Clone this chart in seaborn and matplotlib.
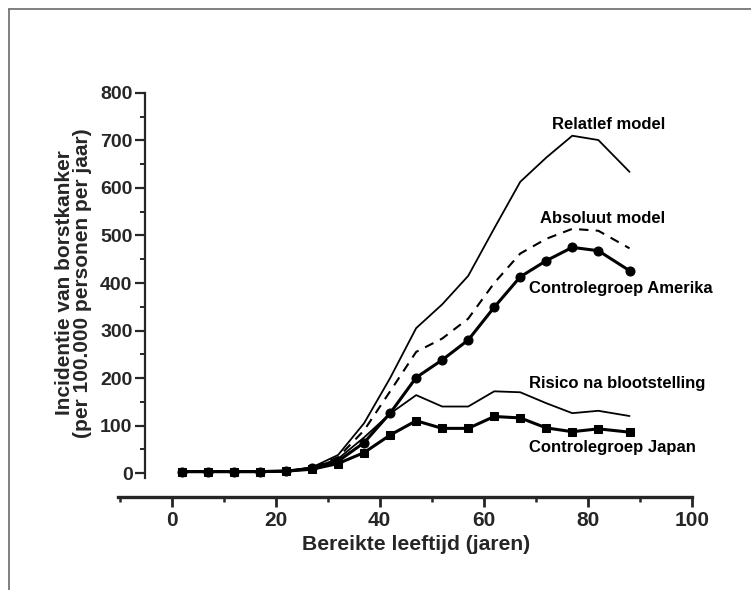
import matplotlib
matplotlib.use("Agg")
import matplotlib.pyplot as plt
import matplotlib.lines as mlines
from matplotlib.ticker import MultipleLocator, FixedLocator
import seaborn as sns
import pandas as pd

# ---- data ----
ages = [2, 7, 12, 17, 22, 27, 32, 37, 42, 47, 52, 57, 62, 67, 72, 77, 82, 88]
amerika = [3, 3, 3, 3, 4, 10, 25, 64, 126, 201, 238, 280, 349, 413, 447, 475, 468, 426]
japan = [3, 3, 3, 3, 4, 8, 20, 43, 80, 110, 94, 94, 119, 116, 95, 87, 93, 86]
relatief = [3, 3, 3, 3, 4, 12, 38, 105, 200, 305, 355, 415, 515, 613, 664, 710, 701, 634]
absoluut = [3, 3, 3, 3, 4, 11, 33, 90, 172, 255, 283, 325, 400, 462, 493, 514, 510, 473]
risico = [3, 3, 3, 3, 4, 10, 30, 75, 125, 164, 140, 140, 172, 170, 147, 126, 131, 120]

x_ticks = [0, 20, 40, 60, 80, 100]
y_ticks = [0, 100, 200, 300, 400, 500, 600, 700, 800]

labels = ["Relatlef model", "Absoluut model", "Controlegroep Amerika",
          "Risico na blootstelling", "Controlegroep Japan"]

df = pd.DataFrame({"age": ages, "amerika": amerika, "japan": japan,
                   "relatief": relatief, "absoluut": absoluut, "risico": risico})

sns.set_style("ticks")
plt.rcParams["font.family"] = ["Liberation Sans", "DejaVu Sans"]

fig = plt.figure(figsize=(7.51, 5.90), dpi=100)
ax = fig.add_axes([0.1571, 0.1576, 0.7643, 0.6848])

sns.lineplot(data=df, x="age", y="relatief", ax=ax, color="black", linewidth=1.3)
sns.lineplot(data=df, x="age", y="absoluut", ax=ax, color="black", linewidth=1.5,
             linestyle=(0, (4.5, 3.5)))
sns.lineplot(data=df, x="age", y="risico", ax=ax, color="black", linewidth=1.3)
sns.lineplot(data=df, x="age", y="amerika", ax=ax, color="black", linewidth=2.2,
             marker="o", markersize=6.5, markeredgecolor="black")
sns.lineplot(data=df, x="age", y="japan", ax=ax, color="black", linewidth=2.2,
             marker="s", markersize=6, markeredgecolor="black")

ax.set_xlim(-10.3, 100)
ax.set_ylim(-50.5, 800)

ax.spines["top"].set_visible(False)
ax.spines["right"].set_visible(False)
ax.spines["left"].set_position(("data", -5.1))
ax.spines["left"].set_bounds(-10, 800)
ax.spines["left"].set_linewidth(1.6)
ax.spines["bottom"].set_linewidth(2.4)
ax.spines["bottom"].set_capstyle("projecting")

ax.xaxis.set_major_locator(FixedLocator(x_ticks))
ax.xaxis.set_minor_locator(FixedLocator([-10, 10, 30, 50, 70, 90]))
ax.yaxis.set_major_locator(FixedLocator(y_ticks))
ax.yaxis.set_minor_locator(MultipleLocator(50))

ax.tick_params(axis="x", which="major", direction="out", length=7, width=2, pad=3,
               labelsize=15)
ax.tick_params(axis="x", which="minor", direction="out", length=3.5, width=1.8)
ax.tick_params(axis="y", which="major", direction="out", length=7, width=1.6, pad=2,
               labelsize=14)
ax.tick_params(axis="y", which="minor", direction="out", length=3.5, width=1.4)
for lab in ax.get_xticklabels() + ax.get_yticklabels():
    lab.set_fontweight("bold")

ax.set_xlabel("Bereikte leeftijd (jaren)", fontsize=15.2, fontweight="bold")
ax.xaxis.set_label_coords(0.519, -0.094)
ax.set_ylabel("Incidentie van borstkanker\n(per 100.000 personen per jaar)",
              fontsize=15, fontweight="bold", linespacing=0.95)
ax.yaxis.set_label_coords(-0.045, 0.53)

txt_kw = dict(fontsize=12, fontweight="bold", color="black")
ax.text(94.8, 733, labels[0], ha="right", va="center", **txt_kw)
ax.text(94.8, 536, labels[1], ha="right", va="center", **txt_kw)
ax.text(68.6, 389, labels[2], ha="left", va="center", **txt_kw)
ax.text(68.6, 188, labels[3], ha="left", va="center", **txt_kw)
ax.text(68.6, 54, labels[4], ha="left", va="center", **txt_kw)

# scanned page frame (left and top edges)
fig.add_artist(mlines.Line2D([9 / 751, 9 / 751], [0, 1 - 9 / 590],
                             transform=fig.transFigure, color="#6a6a6a", linewidth=1.2))
fig.add_artist(mlines.Line2D([9 / 751, 1], [1 - 9 / 590, 1 - 9 / 590],
                             transform=fig.transFigure, color="#6a6a6a", linewidth=1.2))

fig.savefig("out.png", dpi=100)
